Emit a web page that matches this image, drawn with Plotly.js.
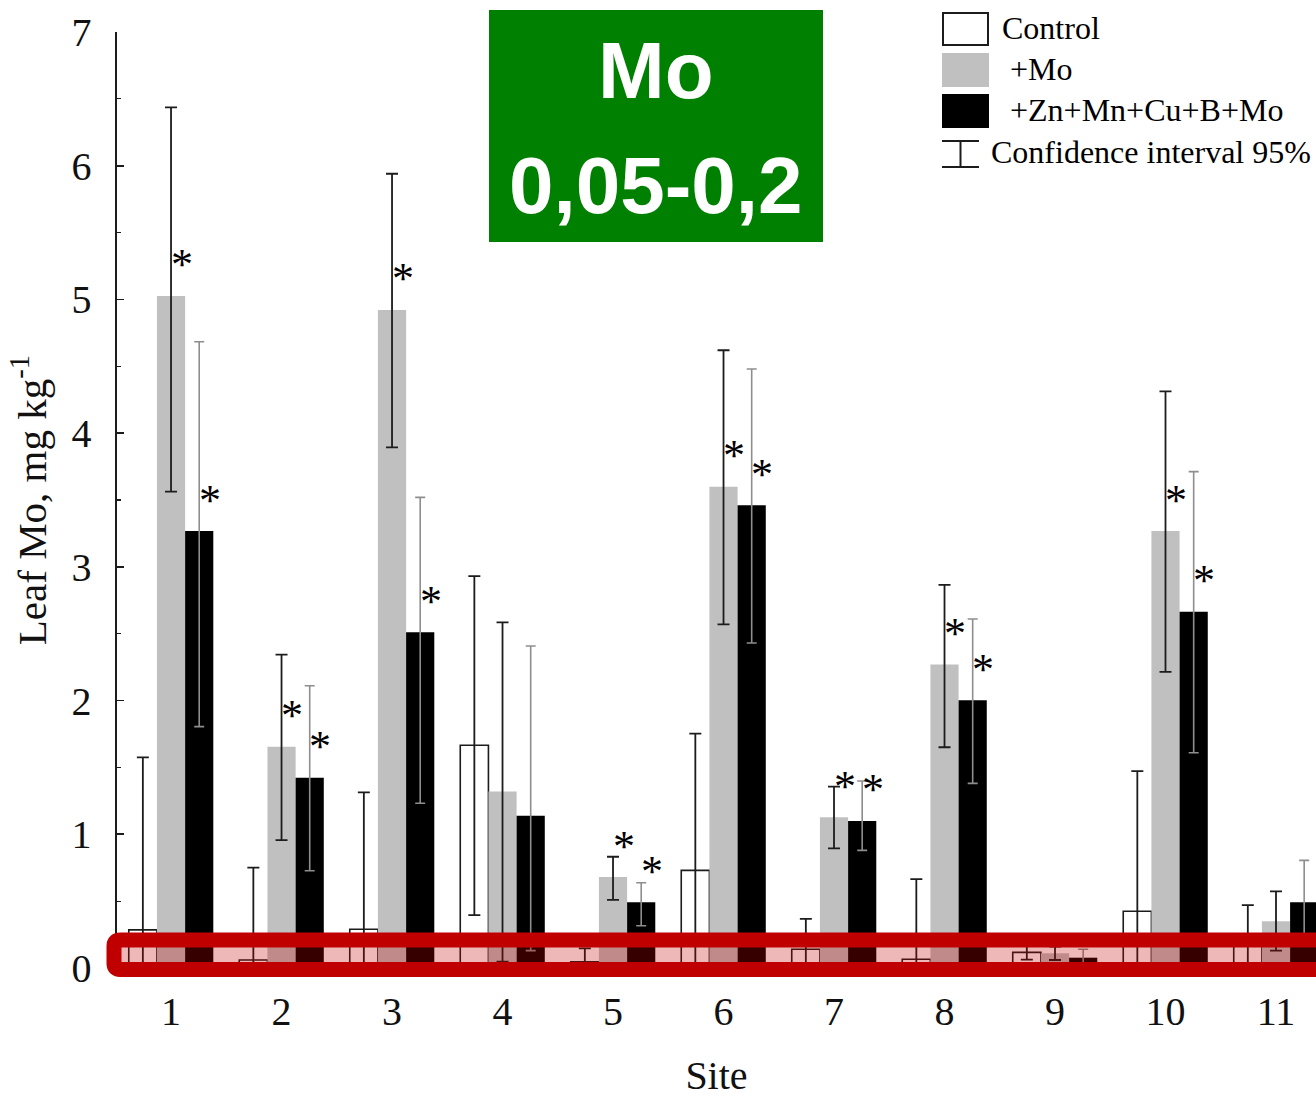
<!DOCTYPE html>
<html>
<head>
<meta charset="utf-8">
<script src="https://cdn.plot.ly/plotly-3.0.1.min.js"></script>
<style>
  html, body { margin: 0; padding: 0; background: #ffffff; }
  #chart { width: 1316px; height: 1098px; }
</style>
</head>
<body>
<div id="chart"></div>
<script>
// Leaf molybdenum by site and treatment, with 95% confidence intervals
const sites = [1, 2, 3, 4, 5, 6, 7, 8, 9, 10, 11];
const siteLabels = ['1', '2', '3', '4', '5', '6', '7', '8', '9', '10', '11'];

const control      = [0.285, 0.06, 0.29, 1.666, 0.047, 0.73, 0.14, 0.065, 0.117, 0.424, 0.20];
const controlUp    = [1.29, 0.69, 1.024, 1.264, 0.10, 1.023, 0.227, 0.60, 0.055, 1.049, 0.27];
const controlDown  = [1.29, 0.69, 1.024, 1.27, 0.10, 1.023, 0.227, 0.60, 0.055, 1.049, 0.27];

const plusMo       = [5.026, 1.655, 4.921, 1.32, 0.68, 3.60, 1.127, 2.269, 0.11, 3.268, 0.349];
const plusMoUp     = [1.411, 0.688, 1.019, 1.265, 0.152, 1.02, 0.229, 0.596, 0.05, 1.045, 0.224];
const plusMoDown   = [1.463, 0.698, 1.027, 1.273, 0.171, 1.03, 0.232, 0.618, 0.05, 1.054, 0.219];

const mixMo        = [3.268, 1.423, 2.511, 1.139, 0.491, 3.46, 1.10, 2.002, 0.077, 2.665, 0.491];
const mixMoUp      = [1.416, 0.688, 1.009, 1.269, 0.147, 1.02, 0.299, 0.608, 0.063, 1.047, 0.314];
const mixMoDown    = [1.463, 0.696, 1.279, 1.009, 0.175, 1.03, 0.22, 0.621, 0.06, 1.055, 0.31];

// significant difference from control (marked with *)
const plusMoSig    = [1, 1, 1, 0, 1, 1, 1, 1, 0, 1, 0];
const mixMoSig     = [1, 1, 1, 0, 1, 1, 1, 1, 0, 1, 0];

const seriesNames  = ['Control', '+Mo', '+Zn+Mn+Cu+B+Mo'];
const optimumText  = ['Mo', '0,05-0,2'];

// plot-area geometry in page pixels
const PL = 117, PT = 32, PW = 1199, PH = 936;
const px = v => (v - PL) / PW;
const py = v => (PT + PH - v) / PH;

const serif = 'Liberation Serif, Times New Roman, serif';
const dark = '#1c1c1c';

const barW = 0.256;

const traces = [
  {
    type: 'bar', name: seriesNames[0], x: sites, y: control,
    marker: { color: '#ffffff', line: { color: dark, width: 1.6 } },
    error_y: { type: 'data', symmetric: false, array: controlUp, arrayminus: controlDown,
               color: dark, thickness: 1.8, width: 6 }
  },
  {
    type: 'bar', name: seriesNames[1], x: sites, y: plusMo,
    marker: { color: '#c0c0c0', line: { width: 0 } },
    error_y: { type: 'data', symmetric: false, array: plusMoUp, arrayminus: plusMoDown,
               color: dark, thickness: 1.8, width: 6 }
  },
  {
    type: 'bar', name: seriesNames[2], x: sites, y: mixMo,
    marker: { color: '#000000', line: { width: 0 } },
    error_y: { type: 'data', symmetric: false, array: mixMoUp, arrayminus: mixMoDown,
               color: '#8e8e8e', thickness: 1.6, width: 5 }
  }
];

const annotations = [];
const starOffset = 0.095;
sites.forEach((s, i) => {
  if (plusMoSig[i]) {
    annotations.push({ xref: 'x', yref: 'y', x: s + starOffset, y: plusMo[i], yshift: 31,
      text: '*', showarrow: false, xanchor: 'center', yanchor: 'middle',
      font: { family: serif, size: 44, color: '#000' } });
  }
  if (mixMoSig[i]) {
    annotations.push({ xref: 'x', yref: 'y', x: s + barW + starOffset, y: mixMo[i], yshift: 31,
      text: '*', showarrow: false, xanchor: 'center', yanchor: 'middle',
      font: { family: serif, size: 44, color: '#000' } });
  }
});

// optimum-range badge
annotations.push({ xref: 'paper', yref: 'paper', x: px(656), y: py(71), text: '<b>' + optimumText[0] + '</b>',
  showarrow: false, xanchor: 'center', yanchor: 'middle',
  font: { family: 'Liberation Sans, Arial, sans-serif', size: 80, color: '#ffffff' } });
annotations.push({ xref: 'paper', yref: 'paper', x: px(656), y: py(186), text: '<b>' + optimumText[1] + '</b>',
  showarrow: false, xanchor: 'center', yanchor: 'middle',
  font: { family: 'Liberation Sans, Arial, sans-serif', size: 80, color: '#ffffff' } });

// legend texts
const legendFont = { family: serif, size: 32, color: '#000' };
[[1000, 28, seriesNames[0]], [1008, 69, seriesNames[1]], [1008, 110, seriesNames[2]],
 [989, 152, 'Confidence interval 95%']].forEach(([lx, ly, t]) => {
  annotations.push({ xref: 'paper', yref: 'paper', x: px(lx), y: py(ly), text: t, showarrow: false,
    xanchor: 'left', yanchor: 'middle', font: legendFont });
});

// highlight band round the 0.05-0.2 level
function roundedRect(x0, y0, x1, y1, r) {
  const rx = r / PW, ry = r / PH;
  const L = px(x0), R = px(x1), T = py(y0), B = py(y1);
  return `M ${L + rx},${T} L ${R - rx},${T} Q ${R},${T} ${R},${T - ry} L ${R},${B + ry} Q ${R},${B} ${R - rx},${B}` +
         ` L ${L + rx},${B} Q ${L},${B} ${L},${B + ry} L ${L},${T - ry} Q ${L},${T} ${L + rx},${T} Z`;
}

const shapes = [
  { type: 'path', xref: 'paper', yref: 'paper', path: roundedRect(114, 940, 1340, 969.5, 6),
    fillcolor: 'rgba(196,0,0,0.28)', line: { color: '#c00000', width: 15 }, layer: 'above' },
  { type: 'rect', xref: 'paper', yref: 'paper', x0: px(489), x1: px(823), y0: py(10), y1: py(242),
    fillcolor: '#008000', line: { width: 0 }, layer: 'above' },
  // legend swatches
  { type: 'rect', xref: 'paper', yref: 'paper', x0: px(943), x1: px(988), y0: py(13), y1: py(45),
    fillcolor: '#ffffff', line: { color: dark, width: 2 } },
  { type: 'rect', xref: 'paper', yref: 'paper', x0: px(942), x1: px(989), y0: py(53), y1: py(87),
    fillcolor: '#c0c0c0', line: { width: 0 } },
  { type: 'rect', xref: 'paper', yref: 'paper', x0: px(942), x1: px(989), y0: py(94), y1: py(128),
    fillcolor: '#000000', line: { width: 0 } },
  // confidence-interval glyph
  { type: 'line', xref: 'paper', yref: 'paper', x0: px(942), x1: px(979), y0: py(141), y1: py(141),
    line: { color: dark, width: 2 } },
  { type: 'line', xref: 'paper', yref: 'paper', x0: px(942), x1: px(979), y0: py(167), y1: py(167),
    line: { color: dark, width: 2 } },
  { type: 'line', xref: 'paper', yref: 'paper', x0: px(960.5), x1: px(960.5), y0: py(141), y1: py(167),
    line: { color: dark, width: 2 } }
];

const layout = {
  width: 1316, height: 1098, autosize: false,
  margin: { l: PL, r: 0, t: PT, b: 1098 - PT - PH, pad: 0 },
  paper_bgcolor: '#ffffff', plot_bgcolor: '#ffffff',
  font: { family: serif, color: '#000' },
  showlegend: false,
  barmode: 'group', bargap: 0.235, bargroupgap: 0,
  xaxis: {
    range: [0.511, 11.362], tickvals: sites, ticktext: siteLabels,
    showline: false, zeroline: false, showgrid: false, ticks: '',
    tickfont: { family: serif, size: 40, color: '#111' }, ticklabelstandoff: 16,
    title: { text: 'Site', font: { family: serif, size: 40, color: '#111' }, standoff: 34 }
  },
  yaxis: {
    range: [0, 7], tick0: 0, dtick: 1,
    showline: true, linewidth: 1.6, linecolor: dark, zeroline: false, showgrid: false,
    ticks: 'inside', ticklen: 7, tickwidth: 1.6, tickcolor: dark,
    minor: { dtick: 0.5, ticks: 'inside', ticklen: 4, tickwidth: 1.2, tickcolor: dark, showgrid: false },
    tickfont: { family: serif, size: 40, color: '#111' }, ticklabelstandoff: 16,
    title: { text: 'Leaf Mo, mg kg<sup>-1</sup>', font: { family: serif, size: 41, color: '#111' }, standoff: 12 }
  },
  shapes: shapes,
  annotations: annotations
};

Plotly.newPlot('chart', traces, layout, { displayModeBar: false, staticPlot: true });
</script>
</body>
</html>
